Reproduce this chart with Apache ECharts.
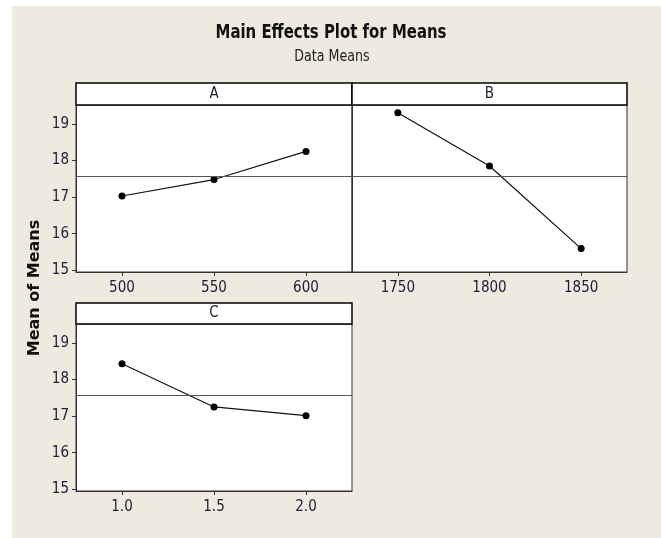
<!DOCTYPE html>
<html>
<head>
<meta charset="utf-8">
<title>Main Effects Plot for Means</title>
<script src="https://cdn.jsdelivr.net/npm/echarts@6/dist/echarts.min.js"></script>
<style>
  html, body { margin: 0; padding: 0; background: #fff; }
  #chart { width: 661px; height: 538px; }
</style>
</head>
<body>
<div id="chart"></div>
<script>
// Factor levels and the mean response at each level
const factorA = [500, 550, 600];
const meansA = [17.03, 17.48, 18.25];
const factorB = [1750, 1800, 1850];
const meansB = [19.31, 17.85, 15.59];
const factorC = [1.0, 1.5, 2.0];
const meansC = [18.43, 17.25, 17.01];
const factorNames = ['A', 'B', 'C'];
const yTickValues = [15, 16, 17, 18, 19];

// Grand mean of all level means (reference line in each panel)
const allMeans = meansA.concat(meansB, meansC);
const grandMean = allMeans.reduce((s, v) => s + v, 0) / allMeans.length;

const FONT = '"DejaVu Sans Condensed", sans-serif';
const TEXT_COLOR = '#1d1d33';

// Panel boxes: plot area + header strip above it; only the left column shows y labels
const panels = [
  { left: 76, top: 105, width: 276, height: 167, header: 22, xMin: 475, xMax: 625, dec: 0, yLabels: true },
  { left: 352, top: 105, width: 275, height: 167, header: 22, xMin: 1725, xMax: 1875, dec: 0, yLabels: false },
  { left: 76, top: 324, width: 276, height: 167, header: 21, xMin: 0.75, xMax: 2.25, dec: 1, yLabels: true }
];
const levels = [factorA, factorB, factorC];
const means = [meansA, meansB, meansC];

const grids = [], xAxes = [], yAxes = [], series = [], graphics = [];

// Beige backdrop
graphics.push({
  type: 'rect', z: -10, silent: true,
  shape: { x: 12, y: 6, width: 661 - 12, height: 538 - 6 },
  style: { fill: '#eeeae0' }
});

// Title and subtitle, set in a narrowed condensed face
graphics.push({
  type: 'text', silent: true,
  x: 331, y: 33, scaleX: 0.83,
  style: {
    text: 'Main Effects Plot for Means', fill: '#111',
    font: 'bold 20px ' + FONT, align: 'center', verticalAlign: 'middle'
  }
});
graphics.push({
  type: 'text', silent: true,
  x: 332, y: 57, scaleX: 0.88,
  style: {
    text: 'Data Means', fill: '#222',
    font: '16px ' + FONT, align: 'center', verticalAlign: 'middle'
  }
});

panels.forEach((p, i) => {
  grids.push({
    left: p.left, top: p.top, width: p.width, height: p.height,
    show: true, backgroundColor: '#fff', borderColor: '#333', borderWidth: 1
  });
  xAxes.push({
    type: 'value', gridIndex: i, min: p.xMin, max: p.xMax,
    axisLine: { show: true, lineStyle: { color: '#333' } },
    axisTick: { show: true, length: 4, lineStyle: { color: '#333' }, customValues: levels[i] },
    axisLabel: {
      color: TEXT_COLOR, fontFamily: FONT, fontSize: 15, margin: 9,
      customValues: levels[i],
      formatter: v => v.toFixed(p.dec)
    },
    splitLine: { show: false }
  });
  yAxes.push({
    type: 'value', gridIndex: i, min: 14.95, max: 19.52,
    axisLine: { show: true, lineStyle: { color: '#333' } },
    axisTick: { show: p.yLabels, length: 4, lineStyle: { color: '#333' }, customValues: yTickValues },
    axisLabel: {
      show: p.yLabels,
      color: TEXT_COLOR, fontFamily: FONT, fontSize: 15, margin: 7,
      customValues: yTickValues,
      formatter: v => String(Math.round(v))
    },
    splitLine: { show: false }
  });
  series.push({
    type: 'line', xAxisIndex: i, yAxisIndex: i,
    data: levels[i].map((x, k) => [x, means[i][k]]),
    symbol: 'circle', symbolSize: 7,
    lineStyle: { color: '#111', width: 1.2 },
    itemStyle: { color: '#000' },
    animation: false,
    markLine: {
      silent: true, symbol: 'none', animation: false,
      label: { show: false },
      lineStyle: { color: '#555', width: 1, type: 'solid' },
      data: [{ yAxis: grandMean }]
    }
  });
  // Header strip with the factor name
  graphics.push({
    type: 'rect', silent: true,
    shape: { x: p.left, y: p.top - p.header, width: p.width, height: p.header },
    style: { fill: '#fff', stroke: '#000', lineWidth: 1.5 }
  });
  graphics.push({
    type: 'text', silent: true,
    x: p.left + p.width / 2, y: p.top - p.header / 2,
    style: {
      text: factorNames[i], fill: TEXT_COLOR, font: '15px ' + FONT,
      align: 'center', verticalAlign: 'middle'
    }
  });
});

// Shared y-axis title
graphics.push({
  type: 'text', silent: true,
  x: 35, y: 288, rotation: Math.PI / 2,
  style: {
    text: 'Mean of Means', fill: '#111',
    font: 'bold 16px "DejaVu Sans", sans-serif',
    align: 'center', verticalAlign: 'middle'
  }
});

const chart = echarts.init(document.getElementById('chart'), null, { renderer: 'canvas' });
chart.setOption({
  animation: false,
  backgroundColor: '#fff',
  grid: grids,
  xAxis: xAxes,
  yAxis: yAxes,
  series: series,
  graphic: graphics
});
</script>
</body>
</html>
